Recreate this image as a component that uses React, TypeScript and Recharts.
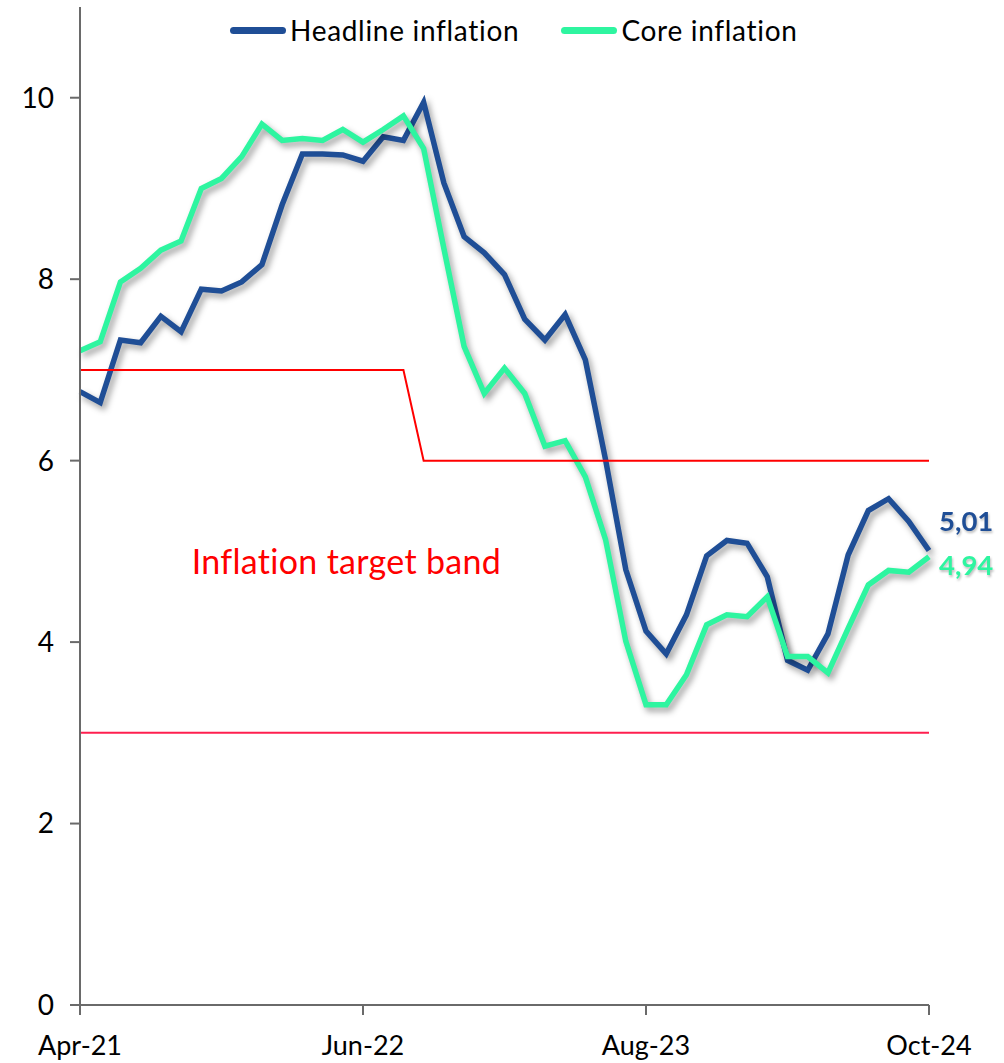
import React from 'react';
import { LineChart, Line, XAxis, YAxis, Legend, ReferenceDot, LabelList } from 'recharts';

const months = [
  'Apr-21', 'May-21', 'Jun-21', 'Jul-21', 'Aug-21', 'Sep-21', 'Oct-21', 'Nov-21', 'Dec-21',
  'Jan-22', 'Feb-22', 'Mar-22', 'Apr-22', 'May-22', 'Jun-22', 'Jul-22', 'Aug-22', 'Sep-22',
  'Oct-22', 'Nov-22', 'Dec-22', 'Jan-23', 'Feb-23', 'Mar-23', 'Apr-23', 'May-23', 'Jun-23',
  'Jul-23', 'Aug-23', 'Sep-23', 'Oct-23', 'Nov-23', 'Dec-23', 'Jan-24', 'Feb-24', 'Mar-24',
  'Apr-24', 'May-24', 'Jun-24', 'Jul-24', 'Aug-24', 'Sep-24', 'Oct-24',
];

const headline = [
  6.76, 6.64, 7.33, 7.30, 7.59, 7.42, 7.89, 7.87, 7.97, 8.16, 8.82, 9.38, 9.38, 9.37, 9.30,
  9.57, 9.53, 9.95, 9.06, 8.47, 8.29, 8.05, 7.56, 7.33, 7.61, 7.11, 6.01, 4.80, 4.12, 3.87,
  4.30, 4.95, 5.12, 5.09, 4.72, 3.80, 3.69, 4.09, 4.96, 5.45, 5.58, 5.33, 5.01,
];

const core = [
  7.21, 7.31, 7.97, 8.12, 8.32, 8.42, 9.00, 9.11, 9.35, 9.71, 9.53, 9.55, 9.53, 9.65, 9.51,
  9.65, 9.80, 9.44, 8.34, 7.26, 6.74, 7.02, 6.74, 6.16, 6.22, 5.82, 5.13, 4.01, 3.31, 3.31,
  3.64, 4.19, 4.30, 4.28, 4.50, 3.84, 3.84, 3.66, 4.15, 4.63, 4.79, 4.77, 4.94,
];

const bandUpper = [
  7, 7, 7, 7, 7, 7, 7, 7, 7, 7, 7, 7, 7, 7, 7, 7, 7,
  6, 6, 6, 6, 6, 6, 6, 6, 6, 6, 6, 6, 6, 6, 6, 6, 6, 6, 6, 6, 6, 6, 6, 6, 6, 6,
];

const bandLower = [
  3, 3, 3, 3, 3, 3, 3, 3, 3, 3, 3, 3, 3, 3, 3, 3, 3, 3, 3, 3, 3, 3,
  3, 3, 3, 3, 3, 3, 3, 3, 3, 3, 3, 3, 3, 3, 3, 3, 3, 3, 3, 3, 3,
];

const xTicks = [0, 14, 28, 42];
const yTicks = [0, 2, 4, 6, 8, 10];
const seriesNames = ['Headline inflation', 'Core inflation'];
const bandLabel = 'Inflation target band';

const HEADLINE_COLOR = '#1F4E96';
const CORE_COLOR = '#2EF5A0';
const BAND_COLOR = '#FF0000';
const LOWER_COLOR = '#FF1F4F';
const AXIS_COLOR = '#6a6a6a';
const FONT = 'Lato, "Open Sans", sans-serif';

const data = months.map((m, i) => ({
  idx: i,
  month: m,
  headline: headline[i],
  core: core[i],
  upper: bandUpper[i],
  lower: bandLower[i],
}));

const lastIndex = months.length - 1;
const fmt = (v: number) => v.toFixed(2).replace('.', ',');

const makeEndLabel = (color: string, dy: number) => (props: any) => {
  const { x, y, index, value } = props;
  if (index !== lastIndex) return null;
  return (
    <text
      x={x + 10}
      y={y + dy}
      fill={color}
      fontSize={27.5}
      fontWeight={700}
      fontFamily={FONT}
      dominantBaseline="central"
      style={{ filter: 'drop-shadow(1px 2px 1px rgba(0,0,0,0.25))' }}
    >
      {fmt(Number(value))}
    </text>
  );
};

const LegendContent = () => (
  <div style={{ display: 'flex', alignItems: 'center', fontFamily: FONT, fontSize: 28, letterSpacing: 0.7, color: '#000', whiteSpace: 'nowrap' }}>
    {[HEADLINE_COLOR, CORE_COLOR].map((c, k) => (
      <div key={k} style={{ display: 'flex', alignItems: 'center', marginRight: k === 0 ? 42 : 0 }}>
        <div style={{ width: 56, height: 7, borderRadius: 3.5, background: c, marginRight: 4 }} />
        <span>{seriesNames[k]}</span>
      </div>
    ))}
  </div>
);

export default function App() {
  return (
    <div style={{ position: 'absolute', left: 0, top: 0, width: 1004, height: 1063, background: '#fff', fontFamily: FONT }}>
      <style>{`.shadow-line .recharts-line-curve { filter: drop-shadow(3px 4px 3px rgba(0,0,0,0.38)); }`}</style>
      <LineChart width={1004} height={1063} data={data} margin={{ top: 7, right: 75, bottom: 0, left: 0 }}>
        <XAxis
          dataKey="idx"
          type="number"
          domain={[0, lastIndex]}
          ticks={xTicks}
          interval={0}
          tickFormatter={(v: number) => months[v]}
          height={58}
          tickSize={10}
          tickMargin={21}
          axisLine={{ stroke: AXIS_COLOR, strokeWidth: 2 }}
          tickLine={{ stroke: AXIS_COLOR, strokeWidth: 2 }}
          tick={{ fill: '#000', fontSize: 27, fontFamily: FONT }}
        />
        <YAxis
          type="number"
          domain={[0, 11]}
          ticks={yTicks}
          interval={0}
          width={80}
          tickSize={10}
          tickMargin={16}
          axisLine={{ stroke: AXIS_COLOR, strokeWidth: 2 }}
          tickLine={{ stroke: AXIS_COLOR, strokeWidth: 2 }}
          tick={{ fill: '#000', fontSize: 28, fontFamily: FONT }}
        />
        <Legend
          verticalAlign="middle"
          align="center"
          layout="horizontal"
          content={<LegendContent />}
          wrapperStyle={{ top: 13, left: 230, width: 'auto', height: 36 }}
        />
        <Line
          className="shadow-line"
          type="linear"
          dataKey="headline"
          name={seriesNames[0]}
          stroke={HEADLINE_COLOR}
          strokeWidth={5.5}
          dot={false}
          isAnimationActive={false}
        >
          <LabelList dataKey="headline" content={makeEndLabel(HEADLINE_COLOR, -30)} />
        </Line>
        <Line
          className="shadow-line"
          type="linear"
          dataKey="core"
          name={seriesNames[1]}
          stroke={CORE_COLOR}
          strokeWidth={5.5}
          dot={false}
          isAnimationActive={false}
        >
          <LabelList dataKey="core" content={makeEndLabel(CORE_COLOR, 8)} />
        </Line>
        <Line
          type="linear"
          dataKey="upper"
          stroke={BAND_COLOR}
          strokeWidth={2}
          dot={false}
          legendType="none"
          isAnimationActive={false}
        />
        <Line
          type="linear"
          dataKey="lower"
          stroke={LOWER_COLOR}
          strokeWidth={2}
          dot={false}
          legendType="none"
          isAnimationActive={false}
        />
        <ReferenceDot
          x={13.18}
          y={4.88}
          r={0}
          fill="none"
          stroke="none"
          label={{ value: bandLabel, position: 'center', fill: BAND_COLOR, fontSize: 34, letterSpacing: 0.3, fontFamily: FONT }}
        />
      </LineChart>
    </div>
  );
}
